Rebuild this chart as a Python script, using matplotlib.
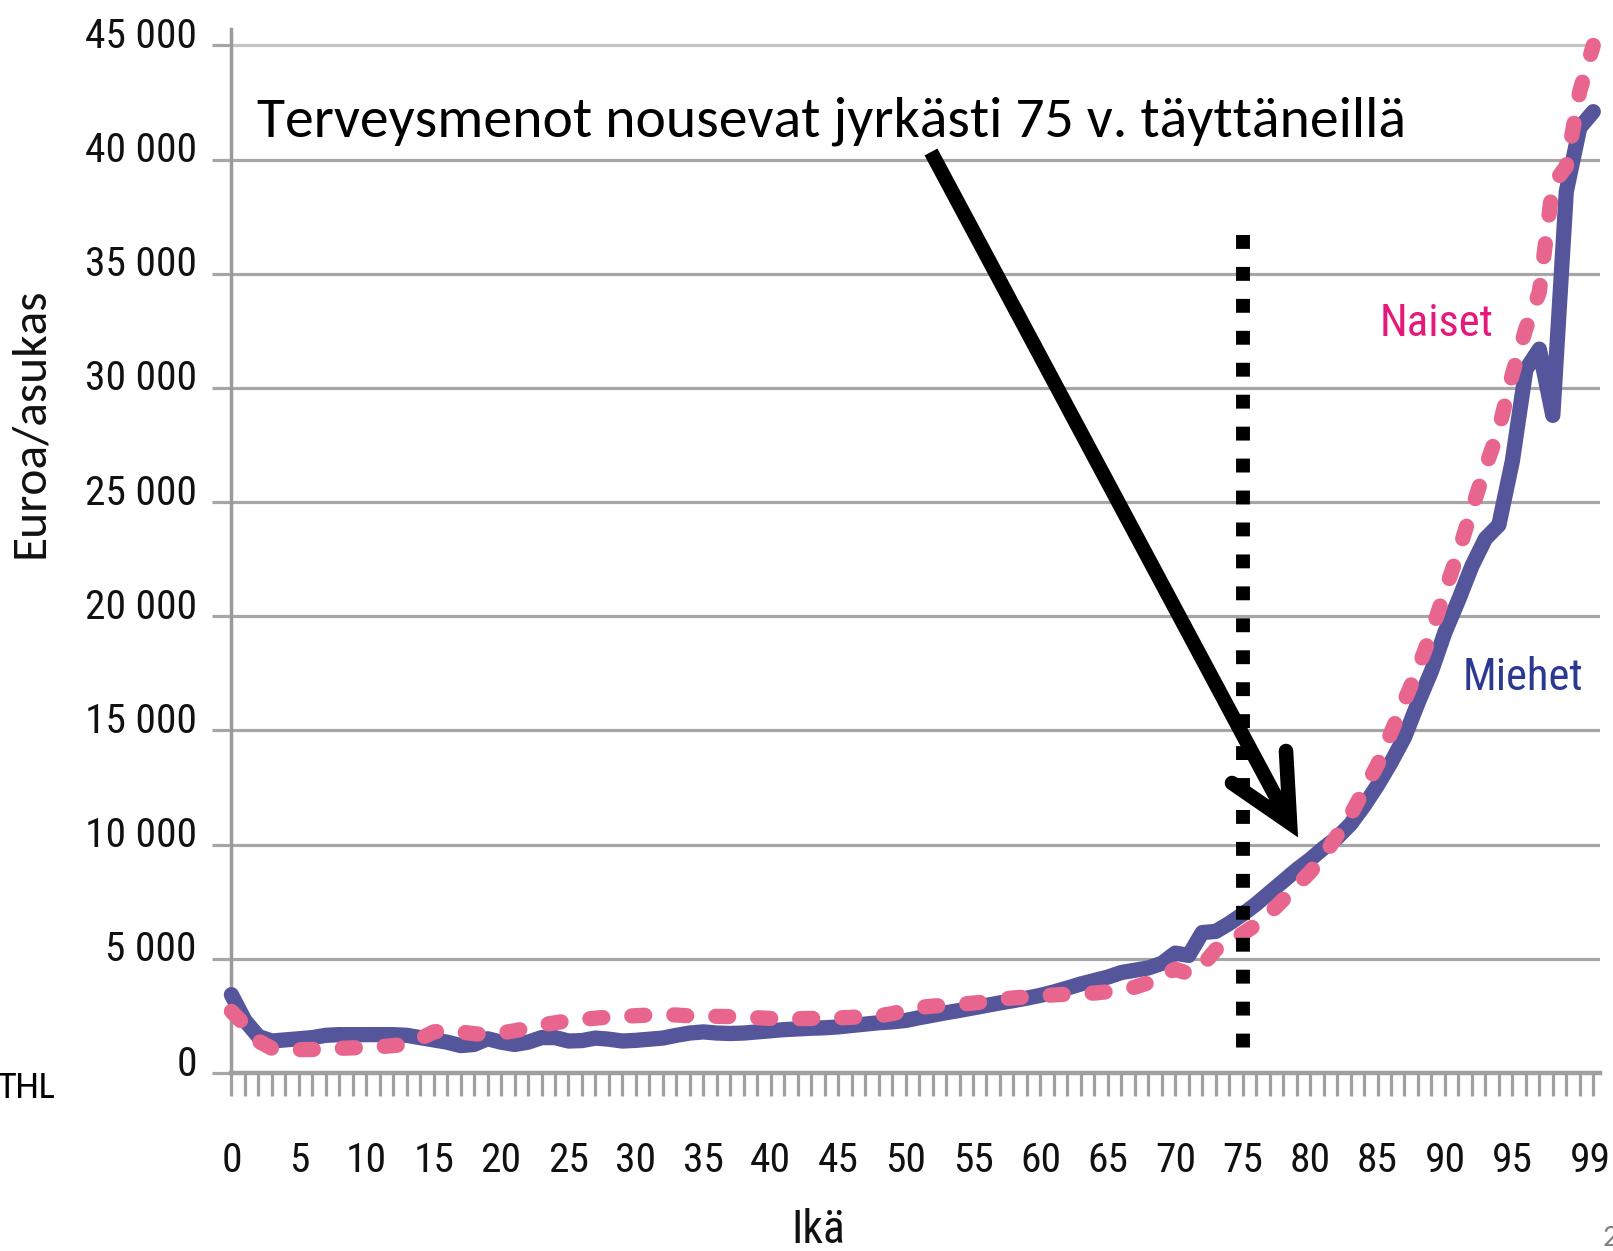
import matplotlib
matplotlib.use("Agg")
import matplotlib.pyplot as plt
import numpy as np
from matplotlib import font_manager
from matplotlib.font_manager import FontProperties
from matplotlib.lines import Line2D
from matplotlib.transforms import ScaledTranslation

W, H = 1613, 1251

# Terveysmenot euroa/asukas iän mukaan (luettu kuvasta)
ages = np.arange(0, 102)
miehet = [
    3430, 2300, 1600, 1400, 1450, 1500, 1550, 1650, 1680, 1680,
    1680, 1680, 1680, 1650, 1550, 1450, 1350, 1200, 1250, 1500,
    1350, 1250, 1350, 1550, 1550, 1400, 1420, 1530, 1480, 1400,
    1430, 1480, 1530, 1650, 1750, 1800, 1750, 1730, 1750, 1800,
    1850, 1900, 1930, 1960, 1980, 2020, 2080, 2140, 2200, 2240,
    2300, 2420, 2530, 2640, 2740, 2850, 2960, 3070, 3170, 3280,
    3400, 3550, 3720, 3900, 4050, 4200, 4400, 4500, 4600, 4800,
    5250, 5150, 6150, 6200, 6550, 6950, 7400, 7900, 8400, 8900,
    9350, 9850, 10300, 10900, 11700, 12600, 13600, 14700, 16200, 17600,
    19300, 20700, 22200, 23400, 24000, 26800, 30800, 31700, 28800, 38600,
    41400, 42100,
]
naiset = [
    2700, 2100, 1400, 1080, 1020, 1020, 1030, 1050, 1080, 1100,
    1120, 1150, 1200, 1260, 1500, 1800, 1870, 1800, 1720, 1680,
    1750, 1850, 1970, 2100, 2200, 2290, 2350, 2400, 2450, 2480,
    2510, 2540, 2560, 2540, 2500, 2500, 2480, 2470, 2460, 2420,
    2390, 2370, 2380, 2390, 2400, 2410, 2440, 2470, 2500, 2600,
    2750, 2870, 2930, 2970, 3010, 3060, 3130, 3220, 3290, 3330,
    3370, 3420, 3450, 3480, 3500, 3560, 3640, 3760, 3950, 4250,
    4550, 4350, 4700, 5400, 5800, 6100, 6500, 7000, 7590, 8200,
    8800, 9500, 10400, 11300, 12400, 13500, 14900, 16300, 17700, 19300,
    21100, 22800, 24700, 26500, 28200, 30600, 32600, 34200, 38900, 39700,
    43000, 45000,
]

y_ticks = list(range(0, 45001, 5000))
y_tick_labels = ["0", "5 000", "10 000", "15 000", "20 000",
                 "25 000", "30 000", "35 000", "40 000", "45 000"]
x_tick_labels = [str(a) for a in range(0, 96, 5)] + ["99"]
x_tick_pos = list(range(0, 96, 5)) + [100.8]

marker_age = 75
marker_top, marker_bottom = 36700, 950

title = "Terveysmenot nousevat jyrkästi 75 v. täyttäneillä"

BLUE = "#55559B"
PINK = "#E8668E"
GRID = "#A6A6A6"

installed = {f.name for f in font_manager.fontManager.ttflist}
SANS = next(f for f in ["Carlito", "Lato", "Open Sans", "DejaVu Sans"] if f in installed)


def find_narrow():
    # kapea fontti akselien numeroille, jos sellainen löytyy
    cands = []
    for f in font_manager.fontManager.ttflist:
        key = (f.name + " " + f.fname).lower()
        if not any(k in key for k in ("narrow", "condensed")):
            continue
        if f.style != "normal" or "bold" in key or "light" in key or "italic" in key:
            continue
        if "mono" in key or "serif" in key and "sans" not in key:
            continue
        cands.append(f)
    order = ["liberation", "roboto", "open sans", "noto sans", "dejavu"]
    cands.sort(key=lambda f: next((i for i, o in enumerate(order) if o in f.name.lower()), 99))
    return cands[0].fname if cands else None


narrow_path = find_narrow()

fig = plt.figure(figsize=(W / 100, H / 100), dpi=100)
fig.patch.set_facecolor("white")
renderer = fig.canvas.get_renderer()


def narrow_fp(size):
    if narrow_path:
        return FontProperties(fname=narrow_path, size=size)
    return FontProperties(family="DejaVu Sans", size=size)


def px(x, y):
    return x / W, 1 - y / H


def fit(txt, width_px, max_size=None):
    w = txt.get_window_extent(renderer).width
    size = txt.get_fontsize() * width_px / w
    if max_size:
        size = min(size, max_size)
    txt.set_fontsize(size)
    return size


probe = fig.text(0, 0, "45 000", fontproperties=narrow_fp(30))
tick_size = fit(probe, 112 if narrow_path else 122, max_size=34)
probe.remove()

x0, y0 = 231.4, 1073
x1, y1 = 1600, 29
ax = fig.add_axes([x0 / W, 1 - y0 / H, (x1 - x0) / W, (y0 - y1) / H])
ax.set_xlim(0, 101.5)
ax.set_ylim(0, 45720)

ax.plot(ages, miehet, color=BLUE, lw=11, solid_joinstyle="round",
        solid_capstyle="round", zorder=3, clip_on=False)
ax.plot(ages, naiset, color=PINK, lw=11, linestyle=(0, (0.85, 1.9)),
        dash_capstyle="round", dash_joinstyle="round", zorder=4, clip_on=False)

# pystysuora katkoviiva 75 v. kohdalla
ax.plot([marker_age, marker_age], [marker_top, marker_bottom], color="black",
        lw=10, linestyle=(0, (1.0, 1.3)), dash_capstyle="butt", zorder=5)

ax.set_yticks(y_ticks, y_tick_labels, fontproperties=narrow_fp(tick_size), color="#111111")
ax.set_xticks(x_tick_pos, x_tick_labels, fontproperties=narrow_fp(tick_size), color="#111111")
ax.set_xticks(ages, minor=True)
ax.xaxis.remove_overlapping_locs = False

ax.tick_params(axis="y", length=14, width=2.3, color=GRID, pad=11)
ax.tick_params(axis="x", which="major", length=0, pad=49)
ax.tick_params(axis="x", which="minor", length=16.5, width=2.3, color="#A0A0A0")

for lab in ax.get_yticklabels():
    lab.set_transform(lab.get_transform() + ScaledTranslation(0, 0.13, fig.dpi_scale_trans))

ax.grid(axis="y", color=GRID, lw=2.3, zorder=0)
ax.get_ygridlines()[-1].set_color("#C4C4C4")
ax.set_axisbelow(True)

for s in ("top", "right"):
    ax.spines[s].set_visible(False)
ax.spines["left"].set_color("#9A9A9A")
ax.spines["left"].set_linewidth(2.5)
ax.spines["bottom"].set_color("#A0A0A0")
ax.spines["bottom"].set_linewidth(3.2)

# sarjojen nimet
fig.text(*px(1437, 324), "Naiset", fontproperties=narrow_fp(tick_size * 1.08),
         color="#E5197A", ha="center", va="center")
fig.text(*px(1523, 678), "Miehet", fontproperties=narrow_fp(tick_size * 1.08),
         color="#2B3990", ha="center", va="center")

# akselien otsikot
fig.text(*px(818, 1208), "Ikä", fontproperties=narrow_fp(tick_size * 1.1),
         color="#111111", ha="center", va="top")
ylab = fig.text(*px(30, 423), "Euroa/asukas", family=SANS, fontsize=26,
                ha="center", va="center", color="#111111")
fit(ylab, 272)
ylab.set_rotation(90)

fig.text(*px(55, 1088), "THL", family=SANS, fontsize=27, ha="right", va="center")
fig.text(*px(1603, 1238), "2", family=SANS, fontsize=22, color="#808080",
         ha="left", va="center")

# huomioteksti ja nuoli
t = fig.text(*px(257, 136), title, family=SANS, fontsize=40, ha="left",
             va="baseline", color="black")
fit(t, 1147)

shaft = Line2D([931 / W, 1284 / W], [1 - 152 / H, 1 - 812 / H], transform=fig.transFigure,
               color="black", lw=10.5, solid_capstyle="butt")
head = Line2D([1232 / W, 1290 / W, 1286 / W], [1 - 783 / H, 1 - 823 / H, 1 - 751 / H],
              transform=fig.transFigure, color="black", lw=10.5,
              solid_capstyle="round", solid_joinstyle="miter")
fig.add_artist(shaft)
fig.add_artist(head)

fig.savefig("out.png", dpi=100, facecolor="white")
